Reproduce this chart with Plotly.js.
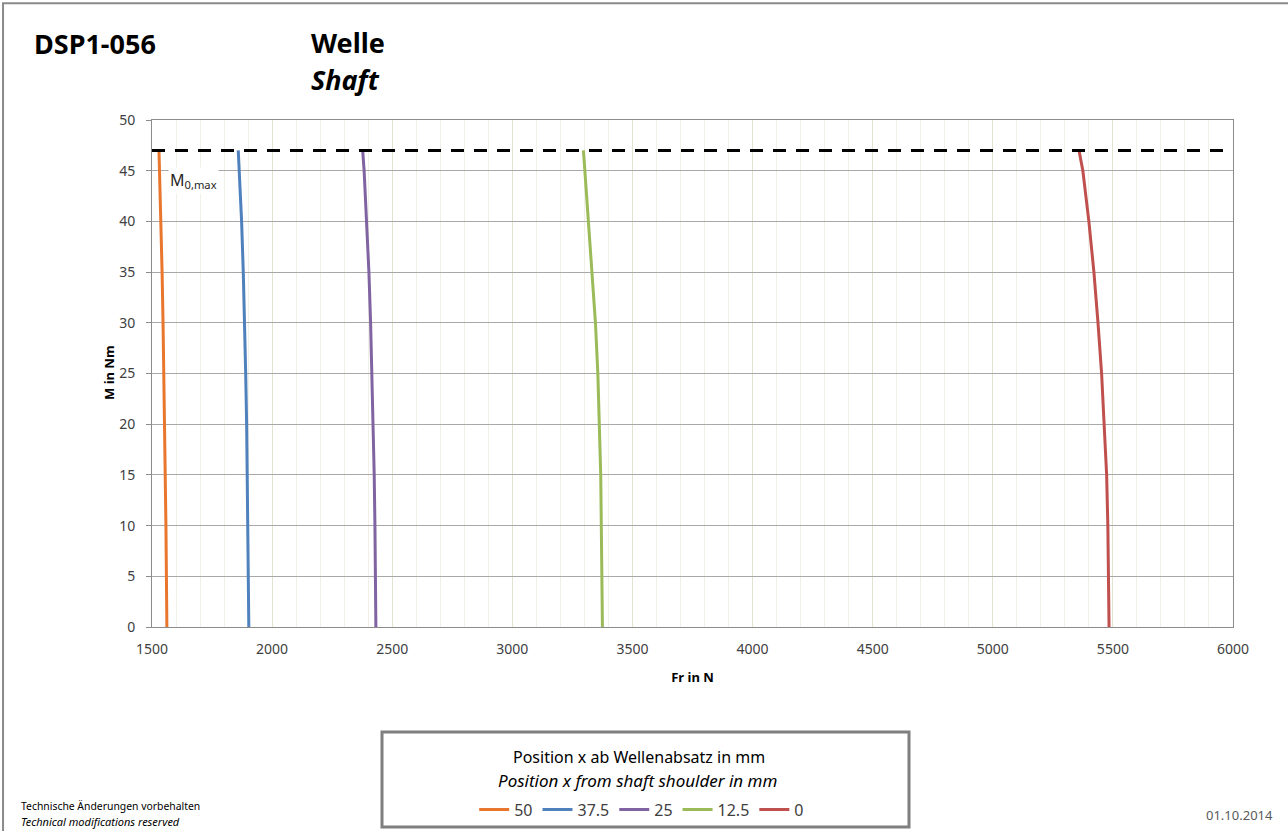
<!DOCTYPE html>
<html>
<head>
<meta charset="utf-8">
<script src="https://cdn.plot.ly/plotly-3.0.1.min.js"></script>
<style>
  html, body { margin: 0; padding: 0; background: #ffffff; }
  #chart { width: 1288px; height: 831px; }
</style>
</head>
<body>
<div id="chart"></div>
<script>
// Moment M in Nm (y values shared by all curves)
const momentNm = [0, 5, 10, 15, 20, 25, 30, 35, 40, 45, 47];

// Radial force Fr in N for each position x (mm from shaft shoulder)
const fr_50   = [1562, 1561, 1558, 1555, 1553, 1549, 1546, 1542, 1537, 1533, 1529];
const fr_37_5 = [1903, 1901, 1900, 1897, 1894, 1890, 1886, 1880, 1873, 1862, 1859];
const fr_25   = [2432, 2431, 2428, 2425, 2421, 2416, 2410, 2403, 2394, 2383, 2377];
const fr_12_5 = [3375, 3373, 3371, 3368, 3362, 3356, 3346, 3332, 3316, 3303, 3296];
const fr_0    = [5484, 5482, 5479, 5474, 5465, 5453, 5438, 5421, 5400, 5375, 5359];

const seriesNames = ['50', '37.5', '25', '12.5', '0'];
const seriesColors = ['#E8762D', '#4F81BD', '#8064A2', '#9BBB59', '#C0504D'];
const seriesData = [fr_50, fr_37_5, fr_25, fr_12_5, fr_0];

// Max moment line
const m0max = 47;
const xRange = [1500, 6000];
const yRange = [0, 50];

const traces = seriesData.map((xs, i) => ({
  type: 'scatter',
  mode: 'lines',
  x: xs,
  y: momentNm,
  name: seriesNames[i],
  line: { color: seriesColors[i], width: 3 },
  hoverinfo: 'x+y+name'
}));

traces.push({
  type: 'scatter',
  mode: 'lines',
  x: xRange,
  y: [m0max, m0max],
  showlegend: false,
  line: { color: '#000000', width: 3, dash: '13px,10px' },
  hoverinfo: 'skip'
});

const font = 'Noto Sans, Open Sans, DejaVu Sans, sans-serif';

const layout = {
  width: 1288,
  height: 831,
  paper_bgcolor: '#ffffff',
  plot_bgcolor: '#ffffff',
  margin: { l: 152, r: 55, t: 120, b: 204, pad: 0, autoexpand: false },
  font: { family: font, color: '#404040' },
  showlegend: true,
  legend: {
    orientation: 'h',
    x: 0.453,
    xanchor: 'center',
    y: -0.36,
    yanchor: 'middle',
    font: { family: font, size: 16, color: '#404040' },
    itemwidth: 30,
    bgcolor: 'rgba(0,0,0,0)',
    traceorder: 'normal'
  },
  xaxis: {
    range: xRange,
    dtick: 500,
    tick0: 1500,
    showgrid: true,
    gridcolor: '#e3e1d0',
    gridwidth: 1,
    minor: { dtick: 100, showgrid: true, gridcolor: '#f1f0e8', gridwidth: 1 },
    zeroline: false,
    showline: true,
    linecolor: '#8c8c8c',
    linewidth: 1,
    mirror: true,
    ticks: '',
    tickfont: { family: font, size: 14, color: '#404040' },
    ticklabelstandoff: 9,
    title: { text: '<b>Fr in N</b>', font: { family: font, size: 13, color: '#000000' }, standoff: 16 },
    fixedrange: true
  },
  yaxis: {
    range: yRange,
    dtick: 5,
    showgrid: true,
    gridcolor: '#a8a8a8',
    gridwidth: 1,
    zeroline: false,
    showline: true,
    linecolor: '#8c8c8c',
    linewidth: 1,
    mirror: true,
    ticks: 'outside',
    ticklen: 5,
    tickcolor: '#8c8c8c',
    tickfont: { family: font, size: 14, color: '#404040' },
    ticklabelstandoff: 8,
    fixedrange: true
  },
  shapes: [
    // outer sheet border
    { type: 'rect', xref: 'paper', yref: 'paper',
      x0: -0.1378, x1: 1.06, y0: -0.42, y1: 1.2303,
      line: { color: '#8a8a8a', width: 2 }, fillcolor: 'rgba(0,0,0,0)', layer: 'above' },
    // legend box
    { type: 'rect', xref: 'paper', yref: 'paper',
      x0: (382 - 152) / 1081, x1: (909 - 152) / 1081,
      y0: (627 - 827) / 507, y1: (627 - 732) / 507,
      line: { color: '#7f7f7f', width: 3 }, fillcolor: 'rgba(0,0,0,0)', layer: 'above' }
  ],
  annotations: [
    { xref: 'paper', yref: 'paper', x: (109 - 152) / 1081, y: (627 - 373) / 507,
      xanchor: 'center', yanchor: 'middle', showarrow: false, textangle: -90,
      text: '<b>M in Nm</b>', font: { family: font, size: 13, color: '#000000' } },
    { xref: 'paper', yref: 'paper', x: (32 - 152) / 1081, y: (627 - 44) / 507,
      xanchor: 'left', yanchor: 'middle', showarrow: false,
      text: '<b>DSP1-056</b>', font: { family: font, size: 27, color: '#000000' } },
    { xref: 'paper', yref: 'paper', x: (309 - 152) / 1081, y: (627 - 42) / 507,
      xanchor: 'left', yanchor: 'middle', showarrow: false,
      text: '<b>Welle</b>', font: { family: font, size: 27, color: '#000000' } },
    { xref: 'paper', yref: 'paper', x: (309 - 152) / 1081, y: (627 - 79) / 507,
      xanchor: 'left', yanchor: 'middle', showarrow: false,
      text: '<b><i>Shaft</i></b>', font: { family: font, size: 27, color: '#000000' } },
    { xref: 'paper', yref: 'paper', x: (168 - 152) / 1081, y: (627 - 181) / 507,
      xanchor: 'left', yanchor: 'middle', showarrow: false, bgcolor: '#ffffff',
      text: 'M<sub>0,max</sub>', font: { family: font, size: 16, color: '#262626' } },
    { xref: 'paper', yref: 'paper', x: (639 - 152) / 1081, y: (627 - 757) / 507,
      xanchor: 'center', yanchor: 'middle', showarrow: false,
      text: 'Position x ab Wellenabsatz in mm', font: { family: font, size: 16, color: '#000000' } },
    { xref: 'paper', yref: 'paper', x: (637 - 152) / 1081, y: (627 - 780) / 507,
      xanchor: 'center', yanchor: 'middle', showarrow: false,
      text: '<i>Position x from shaft shoulder in mm</i>', font: { family: font, size: 17, color: '#000000' } },
    { xref: 'paper', yref: 'paper', x: (19 - 152) / 1081, y: (627 - 806) / 507,
      xanchor: 'left', yanchor: 'middle', showarrow: false,
      text: 'Technische Änderungen vorbehalten', font: { family: font, size: 10.4, color: '#000000' } },
    { xref: 'paper', yref: 'paper', x: (19 - 152) / 1081, y: (627 - 821) / 507,
      xanchor: 'left', yanchor: 'middle', showarrow: false,
      text: '<i>Technical modifications reserved</i>', font: { family: font, size: 11, color: '#000000' } },
    { xref: 'paper', yref: 'paper', x: (1275 - 152) / 1081, y: (627 - 815) / 507,
      xanchor: 'right', yanchor: 'middle', showarrow: false,
      text: '01.10.2014', font: { family: font, size: 13, color: '#595959' } }
  ]
};

Plotly.newPlot('chart', traces, layout, { displayModeBar: false, staticPlot: true });
</script>
</body>
</html>
